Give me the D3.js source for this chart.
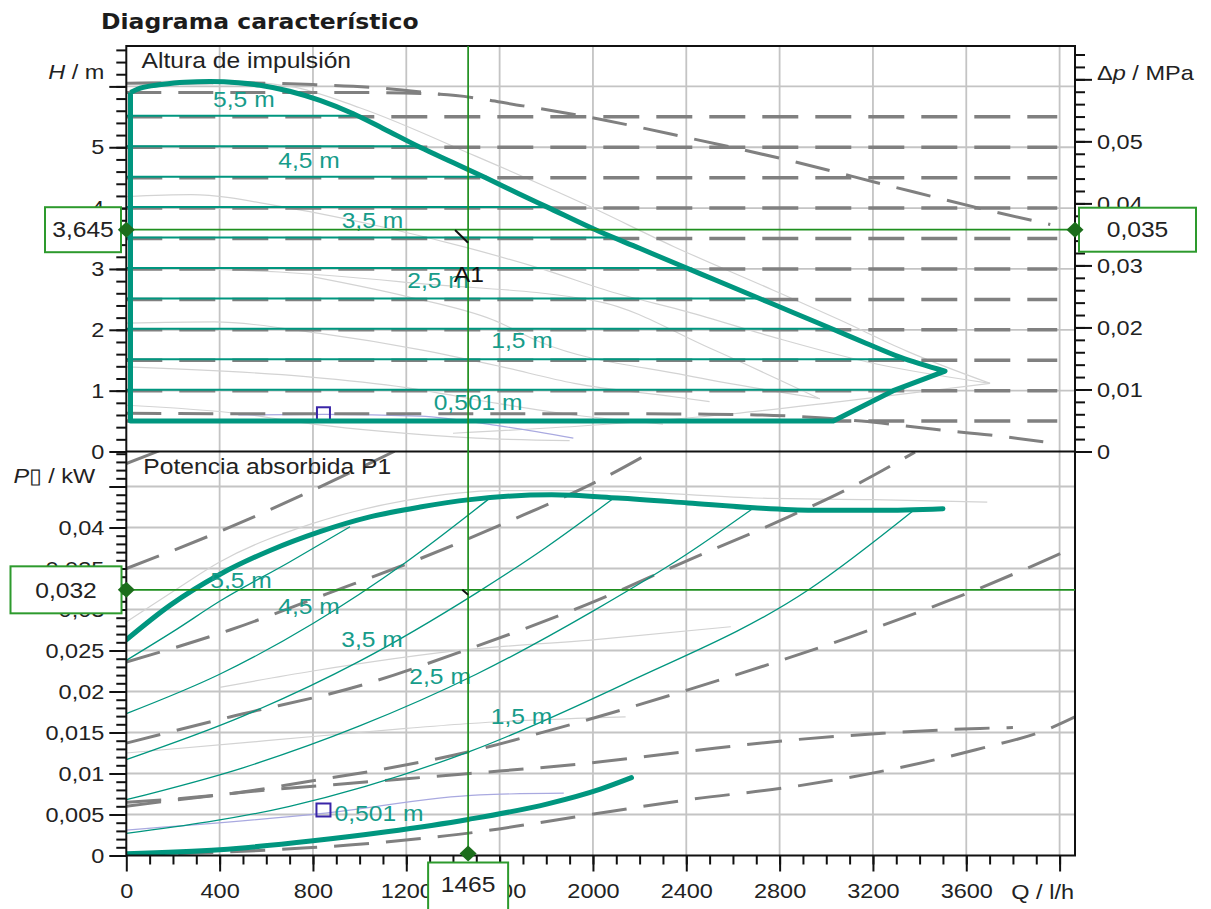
<!DOCTYPE html>
<html lang="es">
<head>
<meta charset="utf-8">
<title>Diagrama característico</title>
<script src="https://cdn.jsdelivr.net/npm/d3@7/dist/d3.min.js"></script>
<style>
  html, body { margin: 0; padding: 0; background: #fff; }
  #chart { display: block; }
</style>
</head>
<body>
<svg id="chart" width="1211" height="909"></svg>
<script>
// ---- values: Q in l/h, H in m, P1 in kW ----
const qTicks = [0, 400, 800, 1200, 1600, 2000, 2400, 2800, 3200, 3600, 4000];
const hTicks = [0, 1, 2, 3, 4, 5, 6];
const dpTicks = [0, 0.01, 0.02, 0.03, 0.04, 0.05, 0.06];
const pTicks = [0, 0.005, 0.01, 0.015, 0.02, 0.025, 0.03, 0.035, 0.04, 0.045];

// operating point A1
const opQ = 1465, opH = 3.645, opP = 0.0324;
const opTextQ = '1465', opTextH = '3,645', opTextDp = '0,035', opTextP = '0,032';

// upper plot: thick envelope (max curve, then closing corners)
const envQ = [18, 60, 150, 250, 359, 480, 573, 700, 830, 973, 1100, 1259, 1400, 1545, 1680, 1802, 2030, 2200, 2373, 2530, 2686, 2860, 3029, 3170, 3316, 3509];
const envH = [5.90, 5.97, 6.03, 6.07, 6.08, 6.06, 6.02, 5.92, 5.77, 5.55, 5.31, 5.00, 4.75, 4.49, 4.24, 4.02, 3.61, 3.34, 3.06, 2.81, 2.56, 2.28, 2.01, 1.78, 1.55, 1.32];
const envCloseQ = [3287, 3030, 18, 18];
const envCloseH = [1.00, 0.501, 0.501, 5.90];

// constant head settings (thin teal) and where they meet the envelope
const headLevels = [5.5, 5.0, 4.5, 4.0, 3.5, 3.0, 2.5, 2.0, 1.5, 1.0];
const headEndQ = [995, 1259, 1545, 1810, 2095, 2410, 2720, 3030, 3350, 3287];

// dashed grey system lines, upper plot
const dashLevels = [5.5, 5.0, 4.5, 4.0, 3.5, 3.0, 2.5, 2.0, 1.5, 1.0, 0.5];
const dashEndQ = 3990;
const dashTop = [[0, 6.05], [400, 6.06], [800, 6.03], [1100, 5.97], [1345, 5.87]];
const dashMax = [[0, 5.90], [600, 5.90], [1000, 5.90], [1345, 5.87], [1700, 5.68], [2030, 5.46], [2402, 5.16], [2845, 4.78], [3287, 4.35], [3731, 3.93], [3960, 3.73]];
const dashMin = [[0, 0.63], [500, 0.62], [1000, 0.62], [1500, 0.62], [2030, 0.62], [2600, 0.61], [3150, 0.50], [3473, 0.36], [3702, 0.27], [3930, 0.16]];

// faint grey curves, upper plot
const faintUp1 = [[0, 6.06], [359, 6.10], [700, 6.00], [1000, 5.65], [1500, 4.85], [1973, 4.05], [2345, 3.37], [2773, 2.65], [3059, 2.16], [3345, 1.65], [3702, 1.12]];
const faintUp2 = [[0, 4.19], [277, 4.22], [700, 4.00], [1099, 3.69], [1460, 3.35], [1773, 3.01], [2100, 2.60], [2402, 2.30], [2800, 1.85], [3200, 1.45], [3702, 1.12]];
const faintUp3 = [[0, 3.02], [656, 2.95], [1263, 2.76], [2030, 2.46], [2500, 1.70], [2965, 0.88]];
const faintUp4 = [[801, 2.87], [1200, 2.55], [1573, 2.16], [1773, 1.80], [2400, 1.25], [2973, 0.87]];
const faintUp5 = [[0, 2.11], [376, 2.13], [830, 1.94], [1263, 1.67], [1600, 1.40], [1920, 1.12], [2345, 0.90], [2500, 0.82]];
const faintUp6 = [[0, 1.39], [770, 1.23], [1200, 1.05], [1591, 0.79], [1920, 0.60], [2300, 0.45]];
const faintUp7 = [[0, 0.76], [492, 0.62], [800, 0.45], [1099, 0.33], [1500, 0.22], [1900, 0.18]];
const faintUpRise = [[1400, 0.30], [2030, 0.44], [2600, 0.62], [3059, 0.82], [3450, 1.00], [3702, 1.12]];
const blueUp = [[480, 0.60], [850, 0.61], [1259, 0.58], [1600, 0.42], [1916, 0.22]];

// lower plot: power input
const pMaxCurve = [[0, 0.0263], [187, 0.0305], [402, 0.0343], [616, 0.0372], [830, 0.0395], [1044, 0.0413], [1259, 0.0425], [1473, 0.0434], [1823, 0.0440], [2107, 0.0436], [2407, 0.0430], [2690, 0.0424], [2941, 0.0421], [3225, 0.0421], [3500, 0.0423]];
const pMinCurve = [[0, 0.0002], [400, 0.0007], [800, 0.0018], [1116, 0.0029], [1465, 0.0044], [1806, 0.0063], [2032, 0.0081], [2165, 0.0095]];
const pHead55 = [[0, 0.0238], [200, 0.0273], [400, 0.0310], [700, 0.0358], [959, 0.0401]];
const pHead45 = [[0, 0.0173], [400, 0.0221], [800, 0.0283], [1200, 0.0358], [1550, 0.0434]];
const pHead35 = [[0, 0.0117], [500, 0.0170], [1000, 0.0237], [1500, 0.0320], [1800, 0.0376], [2090, 0.0436]];
const pHead25 = [[0, 0.0068], [500, 0.0107], [1000, 0.0158], [1500, 0.0221], [2000, 0.0298], [2400, 0.0367], [2690, 0.0424]];
const pHead15 = [[0, 0.0027], [700, 0.0060], [1473, 0.0127], [2140, 0.0210], [2924, 0.0324], [3375, 0.0421]];

// dashed grey lines, lower plot
const pDash1 = [[0, 0.0478], [200, 0.0500]];
const pDash2 = [[0, 0.0350], [400, 0.0395], [773, 0.0442], [1150, 0.0493]];
const pDash3 = [[0, 0.0236], [444, 0.0275], [859, 0.0319], [1259, 0.0362], [1700, 0.0415], [2023, 0.0457], [2250, 0.0492]];
const pDash4 = [[0, 0.0137], [444, 0.0169], [1000, 0.0207], [1459, 0.0251], [1973, 0.0306], [2407, 0.0360], [2807, 0.0409], [3140, 0.0454], [3380, 0.0492]];
const pDash5 = [[0, 0.0065], [459, 0.0076], [773, 0.0090], [1116, 0.0106], [1459, 0.0126], [1807, 0.0152], [2407, 0.0202], [3107, 0.0267], [3641, 0.0324], [4066, 0.0376]];
const pDash6 = [[0, 0.0060], [500, 0.0077], [1000, 0.0089], [1473, 0.0100], [1957, 0.0112], [2408, 0.0127], [2858, 0.0141], [3241, 0.0149], [3658, 0.0155], [3800, 0.0156]];
const pDash7 = [[0, 0.0001], [400, 0.0004], [757, 0.0009], [1058, 0.0015], [1271, 0.0021], [1486, 0.0028], [1923, 0.0047], [2408, 0.0068], [2858, 0.0084], [3225, 0.0102], [3641, 0.0129], [3958, 0.0155], [4066, 0.0169]];

// faint curves, lower plot
const faintLow1 = [[0, 0.0285], [200, 0.0322], [400, 0.0358], [800, 0.0405], [1200, 0.0433], [1600, 0.0445], [2000, 0.0445], [2690, 0.0436], [3200, 0.0434], [3690, 0.0431]];
const faintLow2 = [[400, 0.0205], [800, 0.0225], [1459, 0.0251], [2000, 0.0263], [2591, 0.0279]];
const faintLow3 = [[0, 0.0125], [600, 0.0140], [1200, 0.0155], [1473, 0.0161], [2140, 0.0169]];
const blueLow = [[0, 0.0031], [830, 0.0051], [1516, 0.0074], [1875, 0.0076]];

// small blue reference squares
const sqQ = 845, sqH = 0.62, sqP = 0.00555;

// curve labels (text, Q, value)
const upLabels = [['5,5 m', 504, 5.79], ['4,5 m', 783, 4.79], ['3,5 m', 1055, 3.80], ['2,5 m', 1336, 2.82], ['1,5 m', 1696, 1.82], ['0,501 m', 1508, 0.81]];
const lowLabels = [['5,5 m', 492, 0.0336], ['4,5 m', 783, 0.0304], ['3,5 m', 1053, 0.0264], ['2,5 m', 1345, 0.0219], ['1,5 m', 1694, 0.0170], ['0,501 m', 1083, 0.0051]];

// ---- layout ----
const config = {
  left: 126.3, right: 1075, top: 46, mid: 451.5, bottom: 855.5,
  qMax: 4066, hMax: 6.664, pMax: 0.04927,
  teal: '#00967f', dash: '#808080', grid: '#c4c4c4', faint: '#d3d3d3', faintBlue: '#a9a9e0',
  green: '#1f8f1f', boxGreen: '#2d9a2d', diamond: '#1c6e1c', blue: '#3a25a8',
  sx: 1.12
};
const FONT = "'Liberation Sans', Arial, sans-serif";

const svg = d3.select('#chart');
const x = d3.scaleLinear().domain([0, config.qMax]).range([config.left, config.right]);
const yH = d3.scaleLinear().domain([0, config.hMax]).range([config.mid, config.top]);
const yDp = d3.scaleLinear().domain([0, config.hMax * 0.00981]).range([config.mid, config.top]);
const yP = d3.scaleLinear().domain([0, config.pMax]).range([config.bottom, config.mid]);

const es = d3.formatLocale({ decimal: ',', thousands: '.', grouping: [3], currency: ['', ' €'] });
const fmtNum = es.format('~g');

const lineUp = d3.line().x(d => x(d[0])).y(d => yH(d[1])).curve(d3.curveMonotoneX);
const lineLow = d3.line().x(d => x(d[0])).y(d => yP(d[1])).curve(d3.curveMonotoneX);

// the original text is a bit wider than the installed fonts
function stretch(sel) {
  sel.each(function () {
    const t = d3.select(this);
    const tx = +t.attr('x') || 0, ty = +t.attr('y') || 0;
    t.attr('transform', `translate(${tx},${ty}) scale(${config.sx},1) translate(${-tx},${-ty})`);
  });
}

function addText(g, px, py, str, o = {}) {
  const t = g.append('text')
    .attr('x', px).attr('y', py)
    .attr('dy', o.dy || '0.35em')
    .attr('text-anchor', o.anchor || 'middle')
    .attr('font-family', o.family || FONT)
    .attr('font-size', o.size || 22)
    .attr('font-weight', o.weight || 'normal')
    .attr('fill', o.fill || '#222')
    .text(str);
  stretch(t);
  return t;
}

// text with an italic symbol in it, e.g. "H / m"
function axisTitle(px, py, parts, anchor) {
  const t = svg.append('text')
    .attr('x', px).attr('y', py).attr('dy', '0.35em')
    .attr('text-anchor', anchor)
    .attr('font-family', FONT).attr('font-size', 21).attr('fill', '#222');
  parts.forEach(p => t.append('tspan').attr('font-style', p[1] ? 'italic' : 'normal').text(p[0]));
  stretch(t);
}

// clip regions
const defs = svg.append('defs');
defs.append('clipPath').attr('id', 'clipUp').append('rect')
  .attr('x', config.left).attr('y', config.top)
  .attr('width', config.right - config.left).attr('height', config.mid - config.top);
defs.append('clipPath').attr('id', 'clipLow').append('rect')
  .attr('x', config.left).attr('y', config.mid)
  .attr('width', config.right - config.left).attr('height', config.bottom - config.mid);

// grid
const grid = svg.append('g').attr('stroke', config.grid).attr('stroke-width', 1.8);
grid.selectAll('line.vg').data(qTicks.slice(1)).join('line').attr('class', 'vg')
  .attr('x1', d => x(d)).attr('x2', d => x(d)).attr('y1', config.top).attr('y2', config.bottom);
grid.selectAll('line.hg').data(hTicks.slice(1)).join('line').attr('class', 'hg')
  .attr('x1', config.left).attr('x2', config.right).attr('y1', d => yH(d)).attr('y2', d => yH(d));
grid.selectAll('line.pg').data(pTicks.slice(1)).join('line').attr('class', 'pg')
  .attr('x1', config.left).attr('x2', config.right).attr('y1', d => yP(d)).attr('y2', d => yP(d));

const up = svg.append('g').attr('clip-path', 'url(#clipUp)');
const low = svg.append('g').attr('clip-path', 'url(#clipLow)');

// faint curves
[faintUp1, faintUp2, faintUp3, faintUp4, faintUp5, faintUp6, faintUp7, faintUpRise].forEach(c => {
  up.append('path').attr('d', lineUp(c)).attr('fill', 'none').attr('stroke', config.faint).attr('stroke-width', 1.2);
});
up.append('path').attr('d', lineUp(blueUp)).attr('fill', 'none').attr('stroke', config.faintBlue).attr('stroke-width', 1.2);
[faintLow1, faintLow2, faintLow3].forEach(c => {
  low.append('path').attr('d', lineLow(c)).attr('fill', 'none').attr('stroke', config.faint).attr('stroke-width', 1.2);
});
low.append('path').attr('d', lineLow(blueLow)).attr('fill', 'none').attr('stroke', config.faintBlue).attr('stroke-width', 1.2);

// dashed grey lines
up.append('g').selectAll('line').data(dashLevels).join('line')
  .attr('x1', x(0)).attr('x2', x(dashEndQ))
  .attr('y1', d => yH(d)).attr('y2', d => yH(d))
  .attr('stroke', config.dash).attr('stroke-width', 3.5).attr('stroke-dasharray', '36,17');
[dashTop, dashMax, dashMin].forEach(c => {
  up.append('path').attr('d', lineUp(c)).attr('fill', 'none')
    .attr('stroke', config.dash).attr('stroke-width', 3).attr('stroke-dasharray', '35,17');
});
[pDash1, pDash2, pDash3, pDash4, pDash5, pDash6, pDash7].forEach(c => {
  low.append('path').attr('d', lineLow(c)).attr('fill', 'none')
    .attr('stroke', config.dash).attr('stroke-width', 3).attr('stroke-dasharray', '35,17');
});

// curve labels
upLabels.forEach(d => addText(svg, x(d[1]), yH(d[2]), d[0], { fill: '#169c8a' }));
lowLabels.forEach(d => addText(svg, x(d[1]), yP(d[2]), d[0], { fill: '#169c8a' }));

// blue squares
svg.append('rect').attr('x', x(sqQ) - 6.5).attr('y', yH(sqH) - 6.5).attr('width', 13).attr('height', 13)
  .attr('fill', 'none').attr('stroke', config.blue).attr('stroke-width', 2);
svg.append('rect').attr('x', x(sqQ) - 7).attr('y', yP(sqP) - 6.5).attr('width', 14).attr('height', 13)
  .attr('fill', 'none').attr('stroke', config.blue).attr('stroke-width', 2);

// thin teal: constant head lines
up.append('g').selectAll('line').data(d3.zip(headLevels, headEndQ)).join('line')
  .attr('x1', x(0)).attr('x2', d => x(d[1]))
  .attr('y1', d => yH(d[0]) - 1).attr('y2', d => yH(d[0]) - 1)
  .attr('stroke', config.teal).attr('stroke-width', 2);
[pHead55, pHead45, pHead35, pHead25, pHead15].forEach(c => {
  low.append('path').attr('d', lineLow(c)).attr('fill', 'none').attr('stroke', config.teal).attr('stroke-width', 1.3);
});

// thick teal curves
const envPath = lineUp(d3.zip(envQ, envH)) +
  d3.zip(envCloseQ, envCloseH).map(d => `L${x(d[0])},${yH(d[1])}`).join('');
svg.append('path').attr('d', envPath).attr('fill', 'none')
  .attr('stroke', config.teal).attr('stroke-width', 5).attr('stroke-linejoin', 'round');
[pMaxCurve, pMinCurve].forEach(c => {
  low.append('path').attr('d', lineLow(c)).attr('fill', 'none')
    .attr('stroke', config.teal).attr('stroke-width', 5).attr('stroke-linecap', 'round');
});

// frame
svg.append('rect').attr('x', config.left).attr('y', config.top)
  .attr('width', config.right - config.left).attr('height', config.bottom - config.top)
  .attr('fill', 'none').attr('stroke', '#111').attr('stroke-width', 2);
svg.append('line').attr('x1', config.left).attr('x2', config.right)
  .attr('y1', config.mid).attr('y2', config.mid).attr('stroke', '#111').attr('stroke-width', 2);

// axes
function styleAxis(g) {
  g.select('.domain').remove();
  g.selectAll('line').attr('stroke', '#111').attr('stroke-width', 2);
  g.selectAll('text').attr('font-size', 21).attr('font-family', FONT).attr('fill', '#222');
  stretch(g.selectAll('text'));
}
const minor = (axis, vals, size) => axis.tickValues(vals).tickSize(size).tickFormat('');

svg.append('g').attr('transform', `translate(${config.left},0)`)
  .call(minor(d3.axisLeft(yH), d3.range(0.2, 6.61, 0.2), 10)).call(styleAxis);
svg.append('g').attr('transform', `translate(${config.left},0)`)
  .call(d3.axisLeft(yH).tickValues(hTicks).tickSize(17).tickPadding(5).tickFormat(d => d === 6 ? '' : fmtNum(d)))
  .call(styleAxis);

svg.append('g').attr('transform', `translate(${config.right},0)`)
  .call(minor(d3.axisRight(yDp), d3.range(0.002, 0.0645, 0.002), 10)).call(styleAxis);
svg.append('g').attr('transform', `translate(${config.right},0)`)
  .call(d3.axisRight(yDp).tickValues(dpTicks).tickSize(17).tickPadding(5).tickFormat(d => d === 0.06 ? '' : fmtNum(d)))
  .call(styleAxis);

svg.append('g').attr('transform', `translate(${config.left},0)`)
  .call(minor(d3.axisLeft(yP), d3.range(0.001, 0.0492, 0.001), 10)).call(styleAxis);
svg.append('g').attr('transform', `translate(${config.left},0)`)
  .call(d3.axisLeft(yP).tickValues(pTicks).tickSize(17).tickPadding(5).tickFormat(d => d === 0.045 ? '' : fmtNum(d)))
  .call(styleAxis);

svg.append('g').attr('transform', `translate(0,${config.bottom})`)
  .call(minor(d3.axisBottom(x), d3.range(100, 4001, 100), 9)).call(styleAxis);
svg.append('g').attr('transform', `translate(0,${config.bottom})`)
  .call(d3.axisBottom(x).tickValues(qTicks).tickSize(16).tickPadding(12).tickFormat(d => d === 4000 ? '' : fmtNum(d)))
  .call(styleAxis);

// titles
addText(svg, 101, 29, 'Diagrama característico', { anchor: 'start', dy: '0', family: "'DejaVu Sans', Verdana, sans-serif", size: 21, weight: 'bold', fill: '#1c1c1c' });
addText(svg, 141.6, 68, 'Altura de impulsión', { anchor: 'start', dy: '0', size: 22 });
addText(svg, 143.3, 474, 'Potencia absorbida P1', { anchor: 'start', dy: '0', size: 22 });
axisTitle(config.left - 22, 72, [['H', true], [' / m', false]], 'end');
axisTitle(config.right + 22, 73, [['Δ', false], ['p', true], [' / MPa', false]], 'start');
axisTitle(config.left - 31, 476, [['P', true], ['\u25AF / kW', false]], 'end');
axisTitle(config.right - 1, 892, [['Q / l/h', false]], 'end');

// operating point markers
const marks = svg.append('g');
marks.append('line').attr('x1', x(opQ)).attr('x2', x(opQ)).attr('y1', config.top).attr('y2', config.bottom)
  .attr('stroke', config.green).attr('stroke-width', 1.7);
marks.append('line').attr('x1', config.left).attr('x2', config.right).attr('y1', yH(opH)).attr('y2', yH(opH))
  .attr('stroke', config.green).attr('stroke-width', 1.7);
marks.append('line').attr('x1', config.left).attr('x2', config.right).attr('y1', yP(opP)).attr('y2', yP(opP))
  .attr('stroke', config.green).attr('stroke-width', 1.7);

// A1 mark
marks.append('line')
  .attr('x1', x(1409)).attr('y1', yH(3.64)).attr('x2', x(opQ)).attr('y2', yH(3.43))
  .attr('stroke', '#111').attr('stroke-width', 2);
addText(marks, x(1468), yH(2.92), 'A1', { fill: '#111' });
marks.append('line')
  .attr('x1', x(1440)).attr('y1', yP(opP)).attr('x2', x(opQ)).attr('y2', yP(0.0318))
  .attr('stroke', '#111').attr('stroke-width', 2);

function valueBox(cx, cy, w, h, str, ty) {
  marks.append('rect').attr('x', cx - w / 2).attr('y', cy - h / 2).attr('width', w).attr('height', h)
    .attr('fill', '#fff').attr('stroke', config.boxGreen).attr('stroke-width', 2);
  addText(marks, cx, ty === undefined ? cy : ty, str, { size: 22 });
}
valueBox(config.left - 43.3, yH(opH), 76, 45, opTextH);
valueBox(config.right + 62.5, yH(opH), 117, 44, opTextDp);
valueBox(config.left - 60.3, yP(opP), 111, 47, opTextP);
valueBox(x(opQ), config.bottom + 32, 80, 50, opTextQ, config.bottom + 28.5);

const diamond = (cx, cy) => `M${cx},${cy - 8}L${cx + 8.5},${cy}L${cx},${cy + 8}L${cx - 8.5},${cy}Z`;
[[config.left, yH(opH)], [config.right, yH(opH)], [config.left, yP(opP)], [x(opQ), config.bottom - 2]]
  .forEach(p => marks.append('path').attr('d', diamond(p[0], p[1])).attr('fill', config.diamond));
</script>
</body>
</html>
